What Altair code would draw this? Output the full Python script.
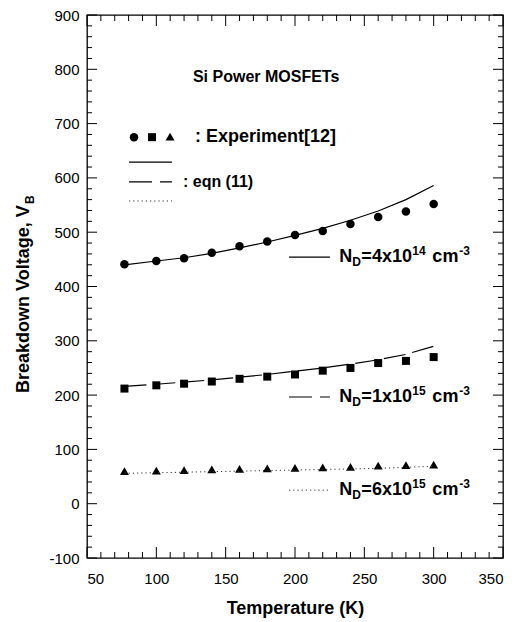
import altair as alt
import pandas as pd

# ---- data ----
T = [77, 100, 120, 140, 160, 180, 200, 220, 240, 260, 280, 300]
exp_4e14 = [441, 447, 452, 462, 474, 483, 495, 502, 515, 528, 538, 552]
exp_1e15 = [212, 218, 221, 225, 230, 234, 238, 245, 250, 259, 263, 270]
exp_6e15 = [60, 61, 62, 63, 64, 65, 66, 67, 68, 70, 71, 72]
fit_4e14 = [440, 447, 453, 461, 471, 482, 494, 507, 522, 539, 560, 586]
fit_1e15 = [216, 220, 224, 228, 233, 238, 244, 250, 257, 265, 275, 290]
fit_6e15 = [56, 57, 58, 59, 60, 61, 62, 63, 64, 65, 67, 69]

x_major = [50, 100, 150, 200, 250, 300, 350]
x_minor = [v for v in range(50, 351, 10) if v % 50 != 0]
y_major = [-100, 0, 100, 200, 300, 400, 500, 600, 700, 800, 900]
y_minor = [v for v in range(-100, 901, 20) if v % 100 != 0]

W, H = 416, 543
FONT = "Liberation Sans"
xs = alt.Scale(domain=[50, 350], nice=False, zero=False)
ys = alt.Scale(domain=[-100, 900], nice=False, zero=False)

x_axis = alt.Axis(values=x_major, ticks=False, domain=False, grid=False,
                  labelFontSize=15, labelPadding=13, labelFont=FONT,
                  labelColor="black", title="Temperature (K)",
                  titleFontSize=18, titleFont=FONT, titleFontWeight="bold",
                  titleColor="black", titlePadding=13)
y_axis = alt.Axis(values=y_major, ticks=False, domain=False, grid=False,
                  labelFontSize=15, labelPadding=8, labelFont=FONT,
                  labelColor="black", title=None,
                  labelExpr="datum.value < 0 ? '-' + abs(datum.value) : '' + datum.value")


def df(**cols):
    return pd.DataFrame(cols)


def X(field="x"):
    return alt.X(f"{field}:Q", scale=xs, axis=x_axis)


def Y(field="y"):
    return alt.Y(f"{field}:Q", scale=ys, axis=y_axis)


SYM = {"circle": 72, "square": 64, "triangle-up": 80}

layers = []

# experimental points
layers.append(alt.Chart(df(x=T, y=exp_4e14)).mark_point(
    shape="circle", filled=True, color="black", opacity=1, size=SYM["circle"]
).encode(x=X(), y=Y()))
layers.append(alt.Chart(df(x=T, y=exp_1e15)).mark_point(
    shape="square", filled=True, color="black", opacity=1, size=SYM["square"]
).encode(x=X(), y=Y()))
layers.append(alt.Chart(df(x=T, y=exp_6e15)).mark_point(
    shape="triangle-up", filled=True, color="black", opacity=1, size=SYM["triangle-up"]
).encode(x=X(), y=Y()))

# model curves
layers.append(alt.Chart(df(x=T, y=fit_4e14)).mark_line(
    color="black", strokeWidth=1.2).encode(x=X(), y=Y()))
layers.append(alt.Chart(df(x=T, y=fit_1e15)).mark_line(
    color="black", strokeWidth=1.2, strokeDash=[22, 7]).encode(x=X(), y=Y()))
layers.append(alt.Chart(df(x=T, y=fit_6e15)).mark_line(
    color="#333333", strokeWidth=1, strokeDash=[1.2, 3]).encode(x=X(), y=Y()))


# inward ticks on all four sides
def xticks(vals, length, top):
    if top:
        yv, y2v = alt.value(0), alt.value(length)
    else:
        yv, y2v = alt.value(H), alt.value(H - length)
    return alt.Chart(df(x=vals)).mark_rule(color="black", strokeWidth=1).encode(
        x=X(), y=yv, y2=y2v)


def yticks(vals, length, right):
    if right:
        xv, x2v = alt.value(W), alt.value(W - length)
    else:
        xv, x2v = alt.value(0), alt.value(length)
    return alt.Chart(df(y=vals)).mark_rule(color="black", strokeWidth=1).encode(
        y=Y(), x=xv, x2=x2v)


for top in (False, True):
    layers.append(xticks(x_major, 11, top))
    layers.append(xticks(x_minor, 6, top))
for right in (False, True):
    layers.append(yticks(y_major, 10, right))
    layers.append(yticks(y_minor, 5, right))


# ---- annotations ----
def note(text, x, y, size=17, dx=0, dy=0, weight="bold"):
    return alt.Chart(df(x=[x], y=[y], t=[text])).mark_text(
        align="left", baseline="middle", fontSize=size, fontWeight=weight,
        dx=dx, dy=dy, font=FONT, color="black"
    ).encode(x=X(), y=Y(), text="t:N")


def key_line(x1, x2, y, dash=None, color="black", sw=1.2):
    kw = dict(color=color, strokeWidth=sw)
    if dash:
        kw["strokeDash"] = dash
    return alt.Chart(df(x=[x1], x2=[x2], y=[y])).mark_rule(**kw).encode(
        x=X(), x2="x2:Q", y=Y())


layers.append(note("Si Power MOSFETs", 126.4, 786, size=16))

# legend block
layers.append(alt.Chart(df(x=[83.9], y=[675])).mark_point(
    shape="circle", filled=True, color="black", opacity=1, size=SYM["circle"]).encode(x=X(), y=Y()))
layers.append(alt.Chart(df(x=[96.9], y=[675])).mark_point(
    shape="square", filled=True, color="black", opacity=1, size=SYM["square"]).encode(x=X(), y=Y()))
layers.append(alt.Chart(df(x=[109.9], y=[676])).mark_point(
    shape="triangle-up", filled=True, color="black", opacity=1, size=SYM["triangle-up"]).encode(x=X(), y=Y()))
layers.append(note(": Experiment[12]", 127.9, 675, size=18))
layers.append(key_line(80.3, 111.3, 629))
layers.append(key_line(80.3, 111.3, 592.5, dash=[23, 8]))
layers.append(note(": eqn (11)", 119.2, 592.5, size=16))
layers.append(key_line(80.3, 111.3, 557.5, dash=[1.2, 3], color="#333333", sw=1))


def nd_label(x, y, mid, sup):
    out = []
    out.append(note("N", x, y, size=18))
    out.append(note("D", x, y, size=12, dx=13, dy=5))
    out.append(note(mid, x, y, size=18, dx=22))
    out.append(note(sup, x, y, size=12, dx=73, dy=-6))
    out.append(note("cm", x, y, size=18, dx=93))
    out.append(note("-3", x, y, size=12, dx=120, dy=-6))
    return out


layers.append(key_line(195.7, 225.2, 454))
layers += nd_label(232, 454, "=4x10", "14")
layers.append(key_line(195.7, 225.2, 196.5, dash=[23, 8]))
layers += nd_label(232, 196.5, "=1x10", "15")
layers.append(key_line(195.7, 225.2, 25, dash=[1.2, 3], color="#333333", sw=1))
layers += nd_label(232, 25, "=6x10", "15")

# y-axis title with subscript
layers.append(alt.Chart(df(a=[0])).mark_text(
    text="Breakdown Voltage, V", angle=270, align="left", baseline="middle",
    fontSize=18, fontWeight="bold", font=FONT, color="black"
).encode(x=alt.value(-63), y=alt.value(378)))
layers.append(alt.Chart(df(a=[0])).mark_text(
    text="B", angle=270, align="left", baseline="middle",
    fontSize=12, fontWeight="bold", font=FONT, color="black"
).encode(x=alt.value(-57), y=alt.value(189)))

chart = alt.layer(*layers).properties(
    width=W, height=H,
    autosize=alt.AutoSizeParams(type="none"),
    padding={"left": 79, "top": 7, "right": 4, "bottom": 60},
    background="white",
).configure_view(stroke="black", strokeWidth=1.3)

chart.save("out.html", embed_options={"renderer": "svg", "actions": False})
